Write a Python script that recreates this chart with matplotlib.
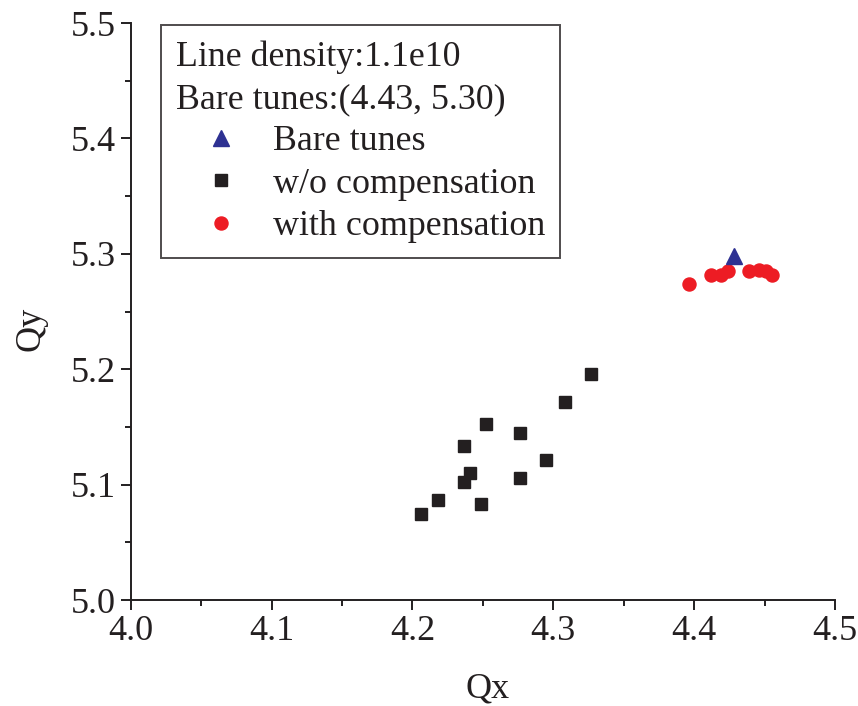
import matplotlib
matplotlib.use("Agg")
import matplotlib.pyplot as plt
from matplotlib.ticker import MultipleLocator, FormatStrFormatter

# Data
bare_qx = [4.428]
bare_qy = [5.298]

wo_qx = [4.327, 4.308, 4.2525, 4.2767, 4.2369, 4.2951, 4.241, 4.2367, 4.2767, 4.2185, 4.249, 4.206]
wo_qy = [5.196, 5.1716, 5.1528, 5.145, 5.1335, 5.1213, 5.110, 5.102, 5.1057, 5.0867, 5.083, 5.0745]

with_qx = [4.3966, 4.412, 4.419, 4.424, 4.439, 4.446, 4.451, 4.455]
with_qy = [5.2736, 5.282, 5.2816, 5.285, 5.2853, 5.286, 5.285, 5.2816]

legend_title = "Line density:1.1e10\nBare tunes:(4.43, 5.30)"
labels = ["Bare tunes", "w/o compensation", "with compensation"]

plt.rcParams['font.family'] = ['Liberation Serif', 'DejaVu Serif']
plt.rcParams['mathtext.fontset'] = 'stix'

fig = plt.figure(figsize=(8.58, 7.06), dpi=100)
ax = fig.add_axes([0.1523, 0.1501, 0.9732 - 0.1523, 0.9674 - 0.1501])

h1, = ax.plot(bare_qx, bare_qy, linestyle='none', marker='^', color='#2e3192',
              markersize=11, label=labels[0], zorder=4)
h2, = ax.plot(wo_qx, wo_qy, linestyle='none', marker='s', color='#231f20',
              markersize=8.6, label=labels[1], zorder=3)
h3, = ax.plot(with_qx, with_qy, linestyle='none', marker='o', color='#ed1c24',
              markersize=9.4, label=labels[2], zorder=3)

ax.set_xlim(4.0, 4.5)
ax.set_ylim(5.0, 5.5)
ax.xaxis.set_major_locator(MultipleLocator(0.1))
ax.xaxis.set_minor_locator(MultipleLocator(0.05))
ax.yaxis.set_major_locator(MultipleLocator(0.1))
ax.yaxis.set_minor_locator(MultipleLocator(0.05))
ax.xaxis.set_major_formatter(FormatStrFormatter('%.1f'))
ax.yaxis.set_major_formatter(FormatStrFormatter('%.1f'))

for s in ['top', 'right']:
    ax.spines[s].set_visible(False)
for s in ['left', 'bottom']:
    ax.spines[s].set_linewidth(1.4)
    ax.spines[s].set_color('#231f20')

ax.tick_params(which='major', direction='out', length=7.5, width=1.4,
               labelsize=26, pad=3, color='#231f20', labelcolor='#231f20')
ax.tick_params(which='minor', direction='out', length=4, width=1.4, color='#231f20')

ax.set_xlabel('Qx', fontsize=26, color='#231f20', labelpad=18)
ax.set_ylabel('Qy', fontsize=26, color='#231f20', labelpad=17)
ax.xaxis.label.set_x(0.507)
ax.yaxis.label.set_y(0.47)

leg = ax.legend(handles=[h1, h2, h3], title=legend_title, loc='upper left',
                bbox_to_anchor=(0.043, 0.996), borderaxespad=0,
                fontsize=25.8, title_fontsize=25.8, alignment='left',
                frameon=True, fancybox=False, edgecolor='#231f20',
                handlelength=2.5, handletextpad=0.2, labelspacing=0.26,
                borderpad=0.42, markerscale=1.0)
leg.get_frame().set_linewidth(1.4)
leg.get_title().set_color('#231f20')
leg.get_title().set_linespacing(1.36)
for t in leg.get_texts():
    t.set_color('#231f20')

fig.savefig('out.png', dpi=100)
